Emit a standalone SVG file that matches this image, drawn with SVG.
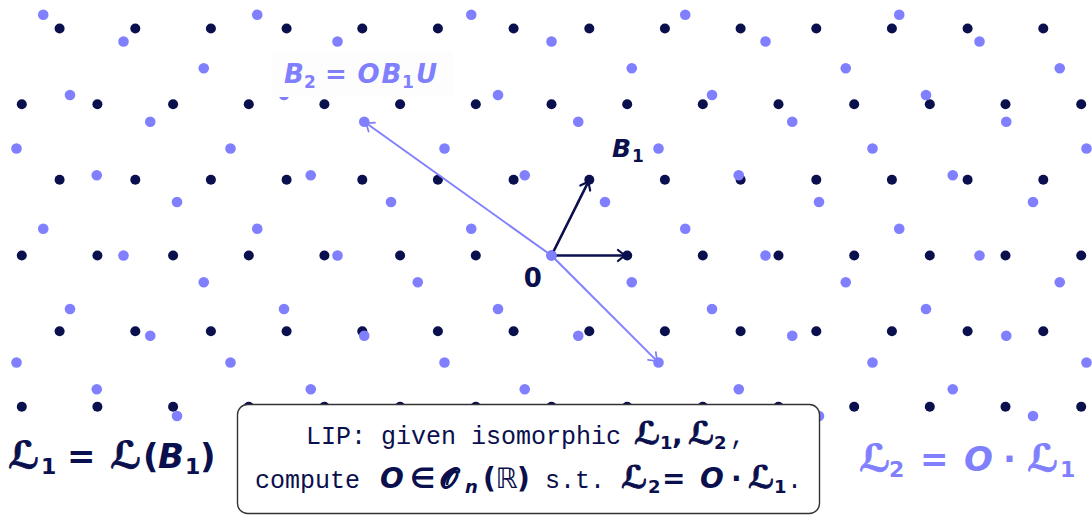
<svg xmlns="http://www.w3.org/2000/svg" width="1092" height="515" viewBox="0 0 1092 515">
<style>
.dk{fill:#0a0f4d}
.lt{fill:#8080ff}
.dkt{fill:#0a0f4d}
.ltt{fill:#8080ff}
.math{font-family:"DejaVu Sans",sans-serif;font-weight:bold;font-style:italic}
.up{font-style:normal}
.mono{font-family:"Liberation Mono","DejaVu Sans Mono",monospace;font-size:25px;font-style:normal;font-weight:normal}
.sub{font-style:normal;font-weight:bold}
.scrD{font-style:normal;stroke:#0a0f4d;stroke-width:0.9}
.scrL{font-style:normal;stroke:#8080ff;stroke-width:0.9}
.arrD{stroke:#0a0f4d;stroke-width:2.6;fill:none}
.arrL{stroke:#8080ff;stroke-width:2;fill:none}
</style>
<defs>
<g id="rowE">
<circle cx="21.8" cy="0" r="5"/><circle cx="97.4" cy="0" r="5"/><circle cx="173.1" cy="0" r="5"/><circle cx="248.8" cy="0" r="5"/><circle cx="324.4" cy="0" r="5"/><circle cx="400.1" cy="0" r="5"/><circle cx="475.8" cy="0" r="5"/><circle cx="551.5" cy="0" r="5"/><circle cx="627.2" cy="0" r="5"/><circle cx="702.8" cy="0" r="5"/><circle cx="778.5" cy="0" r="5"/><circle cx="854.2" cy="0" r="5"/><circle cx="929.8" cy="0" r="5"/><circle cx="1005.5" cy="0" r="5"/><circle cx="1081.2" cy="0" r="5"/>
</g>
<g id="rowO">
<circle cx="59.6" cy="0" r="5"/><circle cx="135.3" cy="0" r="5"/><circle cx="210.9" cy="0" r="5"/><circle cx="286.6" cy="0" r="5"/><circle cx="362.3" cy="0" r="5"/><circle cx="437.9" cy="0" r="5"/><circle cx="513.6" cy="0" r="5"/><circle cx="589.3" cy="0" r="5"/><circle cx="664.9" cy="0" r="5"/><circle cx="740.6" cy="0" r="5"/><circle cx="816.3" cy="0" r="5"/><circle cx="891.9" cy="0" r="5"/><circle cx="967.6" cy="0" r="5"/><circle cx="1043.3" cy="0" r="5"/>
</g>
<marker id="headD" markerUnits="userSpaceOnUse" viewBox="-10 -8 12 16" refX="0" refY="0" markerWidth="12" markerHeight="16" orient="auto" overflow="visible">
<path d="M-8,-5.5 C-4.5,-2.5 -1.8,-0.8 0,0 C-1.8,0.8 -4.5,2.5 -8,5.5" stroke="#0a0f4d" stroke-width="2.2" fill="none" stroke-linecap="round"/>
</marker>
<marker id="headL" markerUnits="userSpaceOnUse" viewBox="-10 -8 12 16" refX="0" refY="0" markerWidth="12" markerHeight="16" orient="auto" overflow="visible">
<path d="M-8,-5.5 C-4.5,-2.5 -1.8,-0.8 0,0 C-1.8,0.8 -4.5,2.5 -8,5.5" stroke="#8080ff" stroke-width="1.8" fill="none" stroke-linecap="round"/>
</marker>
</defs>

<g id="lattice-L1" class="dk">
<use href="#rowO" y="28.5"/>
<use href="#rowE" y="104.2"/>
<use href="#rowO" y="179.8"/>
<use href="#rowE" y="255.5"/>
<use href="#rowO" y="331.2"/>
<use href="#rowE" y="406.8"/>
</g>

<g id="connectors-L1">
<line class="arrD" x1="551.5" y1="255.5" x2="626" y2="255.5" marker-end="url(#headD)"/>
<line class="arrD" x1="551.5" y1="255.5" x2="588.8" y2="180.9" marker-end="url(#headD)"/>
</g>

<g id="lattice-L2" class="lt">
<circle cx="43.25" cy="14.75" r="5.3"/><circle cx="257.25" cy="14.75" r="5.3"/><circle cx="471.25" cy="14.75" r="5.3"/><circle cx="685.25" cy="14.75" r="5.3"/><circle cx="899.25" cy="14.75" r="5.3"/>
<circle cx="123.5" cy="41.5" r="5.3"/><circle cx="337.5" cy="41.5" r="5.3"/><circle cx="551.5" cy="41.5" r="5.3"/><circle cx="765.5" cy="41.5" r="5.3"/><circle cx="979.5" cy="41.5" r="5.3"/>
<circle cx="203.75" cy="68.25" r="5.3"/><circle cx="417.75" cy="68.25" r="5.3"/><circle cx="631.75" cy="68.25" r="5.3"/><circle cx="845.75" cy="68.25" r="5.3"/><circle cx="1059.75" cy="68.25" r="5.3"/>
<circle cx="70" cy="95" r="5.3"/><circle cx="284" cy="95" r="5.3"/><circle cx="498" cy="95" r="5.3"/><circle cx="712" cy="95" r="5.3"/><circle cx="926" cy="95" r="5.3"/>
<circle cx="150.25" cy="121.75" r="5.3"/><circle cx="364.25" cy="121.75" r="5.3"/><circle cx="578.25" cy="121.75" r="5.3"/><circle cx="792.25" cy="121.75" r="5.3"/><circle cx="1006.25" cy="121.75" r="5.3"/>
<circle cx="16.5" cy="148.5" r="5.3"/><circle cx="230.5" cy="148.5" r="5.3"/><circle cx="444.5" cy="148.5" r="5.3"/><circle cx="658.5" cy="148.5" r="5.3"/><circle cx="872.5" cy="148.5" r="5.3"/><circle cx="1086.5" cy="148.5" r="5.3"/>
<circle cx="96.75" cy="175.25" r="5.3"/><circle cx="310.75" cy="175.25" r="5.3"/><circle cx="524.75" cy="175.25" r="5.3"/><circle cx="738.75" cy="175.25" r="5.3"/><circle cx="952.75" cy="175.25" r="5.3"/>
<circle cx="177" cy="202" r="5.3"/><circle cx="391" cy="202" r="5.3"/><circle cx="605" cy="202" r="5.3"/><circle cx="819" cy="202" r="5.3"/><circle cx="1033" cy="202" r="5.3"/>
<circle cx="43.25" cy="228.75" r="5.3"/><circle cx="257.25" cy="228.75" r="5.3"/><circle cx="471.25" cy="228.75" r="5.3"/><circle cx="685.25" cy="228.75" r="5.3"/><circle cx="899.25" cy="228.75" r="5.3"/>
<circle cx="123.5" cy="255.5" r="5.3"/><circle cx="337.5" cy="255.5" r="5.3"/><circle cx="551.5" cy="255.5" r="5.3"/><circle cx="765.5" cy="255.5" r="5.3"/><circle cx="979.5" cy="255.5" r="5.3"/>
<circle cx="203.75" cy="282.25" r="5.3"/><circle cx="417.75" cy="282.25" r="5.3"/><circle cx="631.75" cy="282.25" r="5.3"/><circle cx="845.75" cy="282.25" r="5.3"/><circle cx="1059.75" cy="282.25" r="5.3"/>
<circle cx="70" cy="309" r="5.3"/><circle cx="284" cy="309" r="5.3"/><circle cx="498" cy="309" r="5.3"/><circle cx="712" cy="309" r="5.3"/><circle cx="926" cy="309" r="5.3"/>
<circle cx="150.25" cy="335.75" r="5.3"/><circle cx="364.25" cy="335.75" r="5.3"/><circle cx="578.25" cy="335.75" r="5.3"/><circle cx="792.25" cy="335.75" r="5.3"/><circle cx="1006.25" cy="335.75" r="5.3"/>
<circle cx="16.5" cy="362.5" r="5.3"/><circle cx="230.5" cy="362.5" r="5.3"/><circle cx="444.5" cy="362.5" r="5.3"/><circle cx="658.5" cy="362.5" r="5.3"/><circle cx="872.5" cy="362.5" r="5.3"/><circle cx="1086.5" cy="362.5" r="5.3"/>
<circle cx="96.75" cy="389.25" r="5.3"/><circle cx="310.75" cy="389.25" r="5.3"/><circle cx="524.75" cy="389.25" r="5.3"/><circle cx="738.75" cy="389.25" r="5.3"/><circle cx="952.75" cy="389.25" r="5.3"/>
<circle cx="177" cy="416" r="5.3"/><circle cx="391" cy="416" r="5.3"/><circle cx="605" cy="416" r="5.3"/><circle cx="819" cy="416" r="5.3"/><circle cx="1033" cy="416" r="5.3"/>
</g>

<g id="connectors-L2">
<line class="arrL" x1="551.5" y1="255.5" x2="365.3" y2="122.5" marker-end="url(#headL)"/>
<line class="arrL" x1="551.5" y1="255.5" x2="657.6" y2="361.6" marker-end="url(#headL)"/>
</g>

<g id="label-B2">
<rect x="272" y="52" width="181" height="45" fill="#fdfdfd"/>
<text class="math ltt" font-size="26"><tspan x="284" y="83">B</tspan><tspan class="sub" x="304" y="88" font-size="17">2</tspan><tspan class="up" x="325" y="83">=</tspan><tspan x="357.5" y="83">O</tspan><tspan x="381.5" y="83">B</tspan><tspan class="sub" x="402" y="88" font-size="17">1</tspan><tspan x="416" y="83">U</tspan></text>
</g>

<g id="label-B1">
<text class="math dkt" font-size="25"><tspan x="612" y="157">B</tspan><tspan class="sub" x="632" y="162" font-size="17">1</tspan></text>
</g>

<g id="label-origin">
<text class="math dkt up" font-size="26" text-anchor="middle" x="532.7" y="286.5">0</text>
</g>

<g id="label-L1">
<text class="math dkt" font-size="34"><tspan class="scrD" x="8" y="468" font-size="37">ℒ</tspan><tspan class="sub" x="41" y="474" font-size="22">1</tspan><tspan class="up" x="67" y="468">=</tspan><tspan class="scrD" x="110" y="468" font-size="37">ℒ</tspan><tspan class="up" x="143" y="468">(</tspan><tspan x="158" y="468">B</tspan><tspan class="sub" x="185" y="474" font-size="22">1</tspan><tspan class="up" x="200" y="468">)</tspan></text>
</g>

<g id="label-L2">
<text class="math ltt" font-size="34"><tspan class="scrL" x="859" y="471" font-size="37">ℒ</tspan><tspan class="sub" x="889" y="477" font-size="22">2</tspan><tspan class="up" x="920" y="471">=</tspan><tspan x="964" y="471">O</tspan><tspan class="up" x="1003" y="471">·</tspan><tspan class="scrL" x="1027" y="471" font-size="37">ℒ</tspan><tspan class="sub" x="1060" y="477" font-size="22">1</tspan></text>
</g>

<g id="lip-box">
<rect x="237.5" y="404.5" width="582" height="109" rx="10" fill="#ffffff" stroke="#333333" stroke-width="1.4"/>
<text class="math dkt" font-size="28"><tspan class="mono" x="306" y="443.5">LIP: given isomorphic</tspan><tspan class="scrD" x="634" y="443.5" font-size="31">ℒ</tspan><tspan class="sub" x="660" y="449" font-size="18">1</tspan><tspan class="up" x="672" y="443.5">,</tspan><tspan class="scrD" x="688" y="443.5" font-size="31">ℒ</tspan><tspan class="sub" x="714" y="449" font-size="18">2</tspan><tspan class="mono" x="730" y="443.5">,</tspan></text>
<text class="math dkt" font-size="28"><tspan class="mono" x="255" y="488">compute</tspan><tspan x="380" y="488">O</tspan><tspan class="up" x="410" y="488">∈</tspan><tspan class="scrD" x="440" y="488" stroke-width="0.7">𝒪</tspan><tspan x="465" y="493" font-size="18">n</tspan><tspan class="up" x="483" y="488">(</tspan><tspan class="up" x="495.5" y="488" font-weight="normal">ℝ</tspan><tspan class="up" x="517" y="488">)</tspan><tspan class="mono" x="545" y="488">s.t.</tspan><tspan class="scrD" x="621" y="488" font-size="31">ℒ</tspan><tspan class="sub" x="648" y="493" font-size="18">2</tspan><tspan class="up" x="662" y="488">=</tspan><tspan x="700" y="488">O</tspan><tspan class="up" x="731" y="488">·</tspan><tspan class="scrD" x="748" y="488" font-size="31">ℒ</tspan><tspan class="sub" x="774" y="493" font-size="18">1</tspan><tspan class="mono" x="787" y="488">.</tspan></text>
</g>
</svg>
